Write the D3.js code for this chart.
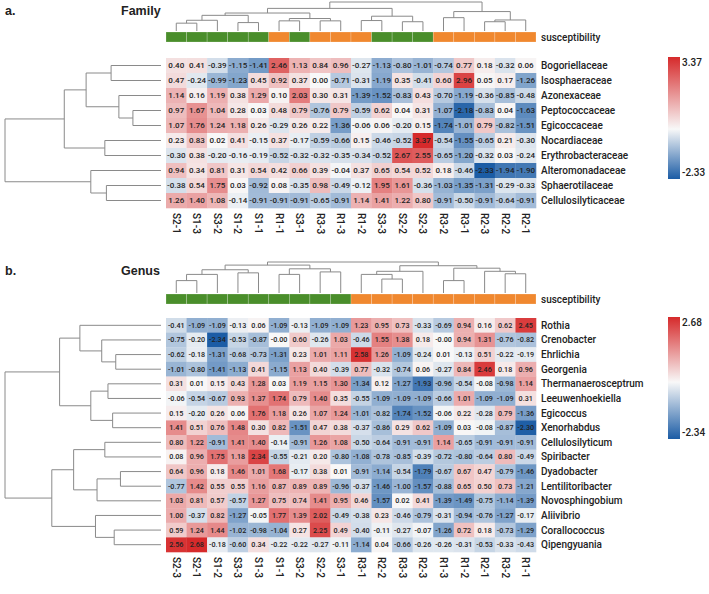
<!DOCTYPE html>
<html>
<head>
<meta charset="utf-8">
<script src="https://cdn.jsdelivr.net/npm/d3@7"></script>
<style>
  body { margin: 0; background: #fff; }
  svg { font-family: Roboto, "Open Sans", sans-serif; display: block; }
  .dendro { fill: none; stroke: #8a8a8a; stroke-width: 1; }
  .cell-text { font-weight: 500; fill: #222; }
  .row-label, .col-label, .annot-label, .legend-label { font-size: 10px; fill: #222; font-weight: 500; }
  .panel-title { font-family: "Liberation Sans", Arial, sans-serif; font-weight: bold; font-size: 12.5px; fill: #222; }
</style>
</head>
<body>
<div id="chart"></div>
<script>
// ---- Family data ----
const familyCols = ["S2-1","S1-3","S3-2","S1-2","S1-1","R1-1","S3-1","R3-3","R1-3","R1-2","S3-3","S2-2","S2-3","R3-2","R3-1","R2-3","R2-2","R2-1"];
const familyRows = ["Bogoriellaceae","Isosphaeraceae","Azonexaceae","Peptococcaceae","Egicoccaceae","Nocardiaceae","Erythrobacteraceae","Alteromonadaceae","Sphaerotilaceae","Cellulosilyticaceae"];
const familyValues = [
  [0.40,0.41,-0.39,-1.15,-1.41,2.46,1.13,0.84,0.96,-0.27,-1.13,-0.80,-1.01,-0.74,0.77,0.18,-0.32,0.06],
  [0.47,-0.24,-0.99,-1.23,0.45,0.92,0.37,0.00,-0.71,-0.31,-1.19,0.35,-0.41,0.60,2.96,0.05,0.17,-1.26],
  [1.14,0.16,1.19,0.38,1.29,0.10,2.03,0.30,0.31,-1.39,-1.52,-0.83,0.43,-0.70,-1.19,-0.36,-0.85,-0.48],
  [0.97,1.67,1.04,0.28,0.03,0.48,0.79,-0.76,0.79,-0.59,0.62,0.04,0.31,-1.07,-2.18,-0.83,0.04,-1.63],
  [1.07,1.76,1.24,1.18,0.26,-0.29,0.26,0.22,-1.36,-0.06,0.06,-0.20,0.15,-1.74,-1.01,0.79,-0.82,-1.51],
  [0.23,0.83,0.02,0.41,-0.15,0.37,-0.17,-0.59,-0.66,0.15,-0.46,-0.52,3.37,-0.54,-1.55,-0.65,0.21,-0.30],
  [-0.30,0.38,-0.20,-0.16,-0.19,-0.52,-0.32,-0.32,-0.35,-0.34,-0.52,2.67,2.55,-0.65,-1.20,-0.32,0.03,-0.24],
  [0.94,0.34,0.81,0.31,0.54,0.42,0.66,0.39,-0.04,0.37,0.65,0.54,0.52,0.18,-0.46,-2.33,-1.94,-1.90],
  [-0.38,0.54,1.75,0.03,-0.92,0.08,-0.35,0.98,-0.49,-0.12,1.95,1.61,-0.36,-1.03,-1.35,-1.31,-0.29,-0.33],
  [1.26,1.40,1.08,-0.14,-0.91,-0.91,-0.91,-0.65,-0.91,1.14,1.41,1.22,0.80,-0.91,-0.50,-0.91,-0.64,-0.91]
];
// dendrograms as [height, left, right]; leaves are column / row indices
const familyColTree = [10, [7.8, [6.2, [5.4, [3.7, [2.7, 0, 1], 2], [2.9, 3, 4]], [4.3, [3.5, 5, 6], [3.5, 7, 8]]], [5.1, [3.6, 9, 10], [3.2, 11, 12]]],
                           [6.7, [4.6, 13, 14], [3.8, [3.2, 15, 16], 17]]];
const familyRowTree = [10, [6.2, [4.8, [3.2, 0, 1], [2.7, 2, [1.8, 3, 4]]], [3.6, 5, 6]], [4.5, 7, [3.5, 8, 9]]];

// ---- Genus data ----
const genusCols = ["S2-3","S2-1","S1-2","S3-3","S1-3","S1-1","S3-2","S2-2","S3-1","R3-1","R2-2","R3-3","R2-3","R1-3","R1-2","R2-1","R3-2","R1-1"];
const genusRows = ["Rothia","Crenobacter","Ehrlichia","Georgenia","Thermanaerosceptrum","Leeuwenhoekiella","Egicoccus","Xenorhabdus","Cellulosilyticum","Spiribacter","Dyadobacter","Lentilitoribacter","Novosphingobium","Aliivibrio","Corallococcus","Qipengyuania"];
const genusValues = [
  [-0.41,-1.09,-1.09,-0.13,0.06,-1.09,-0.13,-1.09,-1.09,1.23,0.95,0.73,-0.33,-0.69,0.94,0.16,0.62,2.45],
  [-0.75,-0.20,-2.34,-0.53,-0.87,-0.00,0.60,-0.26,1.03,-0.46,1.55,1.38,0.18,-0.00,0.94,1.31,-0.76,-0.82],
  [-0.62,-0.18,-1.31,-0.68,-0.73,-1.31,0.23,1.01,1.11,2.58,1.26,-1.09,-0.24,0.01,-0.13,0.51,-0.22,-0.19],
  [-1.01,-0.80,-1.41,-1.13,0.41,-1.15,1.13,0.40,-0.39,0.77,-0.32,-0.74,0.06,-0.27,0.84,2.46,0.18,0.96],
  [0.31,0.01,0.15,0.43,1.28,0.03,1.19,1.15,1.30,-1.34,0.12,-1.27,-1.93,-0.96,-0.54,-0.08,-0.98,1.14],
  [-0.06,-0.54,-0.67,0.93,1.37,1.74,0.79,1.40,0.35,-0.55,-1.09,-1.09,-1.09,-0.66,1.01,-1.09,-1.09,0.31],
  [0.15,-0.20,0.26,0.06,1.76,1.18,0.26,1.07,1.24,-1.01,-0.82,-1.74,-1.52,-0.06,0.22,-0.28,0.79,-1.36],
  [1.41,0.51,0.76,1.48,0.30,0.82,-1.51,0.47,0.38,-0.37,-0.86,0.29,0.62,-1.09,0.03,-0.08,-0.87,-2.30],
  [0.80,1.22,-0.91,1.41,1.40,-0.14,-0.91,1.26,1.08,-0.50,-0.64,-0.91,-0.91,1.14,-0.65,-0.91,-0.91,-0.91],
  [0.08,0.96,1.75,1.18,2.34,-0.55,-0.21,0.20,-0.80,-1.08,-0.78,-0.85,-0.39,-0.72,-0.80,-0.64,0.80,-0.49],
  [0.64,0.96,0.18,1.46,1.01,1.68,-0.17,0.38,0.01,-0.91,-1.14,-0.54,-1.79,-0.67,0.67,0.47,-0.79,-1.46],
  [-0.77,1.42,0.55,0.55,1.16,0.87,0.89,0.89,-0.96,-0.37,-1.46,-1.00,-1.57,-0.88,0.65,0.50,0.73,-1.21],
  [1.03,0.81,0.57,-0.57,1.27,0.75,0.74,1.41,0.95,0.46,-1.57,0.02,0.41,-1.39,-1.49,-0.75,-1.14,-1.39],
  [1.00,-0.37,0.82,-1.27,-0.05,1.77,1.39,2.02,-0.49,-0.38,0.23,-0.46,-0.79,-0.31,-0.94,-0.76,-1.27,-0.17],
  [0.59,1.24,1.44,-1.02,-0.98,-1.04,0.27,2.25,0.49,-0.40,-0.11,-0.27,-0.07,-1.26,0.72,0.18,-0.73,-1.29],
  [2.56,2.68,-0.18,-0.60,0.34,-0.22,-0.22,-0.27,-0.11,-1.14,0.04,-0.66,-0.26,-0.26,-0.31,-0.53,-0.33,-0.43]
];
const genusColTree = [10, [9, [7.5, [6, [4, 0, 1], 2], [6.5, 3, 4]], [7.8, [6, 5, 6], [6.8, 7, 8]]],
                          [8.8, [7, [6, 9, [4.5, 10, 11]], 12], [8, [4, 13, 14], [7, 15, [6.2, 16, 17]]]]];
const genusRowTree = [10, [6.5, [5.2, 0, [3.8, 1, [2.9, 2, 3]]], [4.5, [3.4, 4, 5], [3.1, 6, 7]]],
                          [7, [5.6, [3.6, 8, 9], [4.1, [2.6, 10, 11], 12]], [4.2, 13, [3.0, 14, 15]]]];

const annotColors = { S: "#4a8e2b", R: "#f0882f" };

const W = 709, H = 594;
const svg = d3.select("#chart").append("svg").attr("width", W).attr("height", H);

const fmt = v => (Object.is(v, -0) ? "-" : "") + v.toFixed(2);

function drawTree(g, tree, leafPos, hScale, vertical) {
  const paths = [];
  function rec(node) {
    if (typeof node === "number") return { p: leafPos(node), h: 0 };
    const [h, a, b] = node;
    const A = rec(a), B = rec(b);
    if (vertical) {
      paths.push(`M${A.p},${hScale(A.h)}V${hScale(h)}H${B.p}V${hScale(B.h)}`);
    } else {
      paths.push(`M${hScale(A.h)},${A.p}H${hScale(h)}V${B.p}H${hScale(B.h)}`);
    }
    return { p: (A.p + B.p) / 2, h };
  }
  rec(tree);
  g.selectAll("path").data(paths).enter().append("path").attr("class", "dendro").attr("d", d => d);
}

function drawPanel(cfg) {
  const g = svg.append("g");
  const x = d3.scaleBand().domain(cfg.cols).range([166, 536]);
  const y = d3.scaleBand().domain(cfg.rows).range([cfg.top, cfg.bottom]);
  const flat = cfg.values.flat();
  const vmin = d3.min(flat), vmax = d3.max(flat);
  const color = d3.scaleLinear().domain([vmin, 0, vmax]).range(["#1b5ca5", "#f8f8f8", "#d62a2b"]);

  // titles
  g.append("text").attr("class", "panel-title").attr("x", 5).attr("y", cfg.titleY).text(cfg.letter);
  g.append("text").attr("class", "panel-title").attr("x", 121).attr("y", cfg.titleY).text(cfg.title);

  // column dendrogram
  const hCol = d3.scaleLinear().domain([0, cfg.colTree[0]]).range([cfg.annotTop - 1, cfg.dendTop]);
  drawTree(g.append("g"), cfg.colTree, i => x(cfg.cols[i]) + x.bandwidth() / 2, hCol, true);

  // row dendrogram
  const hRow = d3.scaleLinear().domain([0, cfg.rowTree[0]]).range([161, 5]);
  drawTree(g.append("g"), cfg.rowTree, i => y(cfg.rows[i]) + y.bandwidth() / 2, hRow, false);

  // susceptibility annotation
  g.selectAll(".annot").data(cfg.cols).enter().append("rect")
    .attr("x", d => x(d)).attr("y", cfg.annotTop)
    .attr("width", x.bandwidth()).attr("height", 10)
    .attr("fill", d => annotColors[d[0]])
    .attr("stroke", "#ffffff").attr("stroke-opacity", 0.35).attr("stroke-width", 0.6);
  g.append("text").attr("class", "annot-label").attr("x", 541).attr("y", cfg.annotTop + 5)
    .attr("dy", "0.35em").text("susceptibility");

  // heatmap cells
  const cells = [];
  cfg.values.forEach((row, ri) => row.forEach((v, ci) => cells.push({ r: cfg.rows[ri], c: cfg.cols[ci], v })));
  g.selectAll(".cell").data(cells).enter().append("rect")
    .attr("x", d => x(d.c)).attr("y", d => y(d.r))
    .attr("width", x.bandwidth() + 0.3).attr("height", y.bandwidth() + 0.3)
    .attr("fill", d => color(d.v));
  g.selectAll(".cell-text").data(cells).enter().append("text")
    .attr("class", "cell-text")
    .attr("x", d => x(d.c) + x.bandwidth() / 2).attr("y", d => y(d.r) + y.bandwidth() / 2)
    .attr("dy", "0.35em").attr("text-anchor", "middle")
    .style("font-size", cfg.numSize + "px")
    .text(d => fmt(d.v));

  // row labels
  g.selectAll(".row-label").data(cfg.rows).enter().append("text")
    .attr("class", "row-label").attr("x", 541)
    .attr("y", d => y(d) + y.bandwidth() / 2).attr("dy", "0.35em").text(d => d);

  // column labels (rotated, reading downward)
  g.selectAll(".col-label").data(cfg.cols).enter().append("text")
    .attr("class", "col-label")
    .attr("transform", d => `translate(${x(d) + x.bandwidth() / 2},${cfg.bottom + 5}) rotate(90)`)
    .attr("dy", "0.35em").text(d => d);

  // legend
  const legTop = cfg.top - 1, legBottom = cfg.top + 121;
  const ly = d3.scaleLinear().domain([vmin, vmax]).range([legBottom, legTop]);
  const gradId = "grad-" + cfg.title;
  const grad = svg.append("defs").append("linearGradient").attr("id", gradId)
    .attr("x1", 0).attr("y1", 1).attr("x2", 0).attr("y2", 0);
  color.domain().forEach((v, i) => {
    grad.append("stop").attr("offset", (v - vmin) / (vmax - vmin)).attr("stop-color", color.range()[i]);
  });
  g.append("rect").attr("x", 668).attr("y", legTop).attr("width", 12).attr("height", legBottom - legTop)
    .attr("fill", `url(#${gradId})`);
  g.append("text").attr("class", "legend-label").attr("x", 682).attr("y", ly(vmax) + 5)
    .attr("dy", "0.35em").text(fmt(vmax));
  g.append("text").attr("class", "legend-label").attr("x", 682).attr("y", ly(vmin) - 7)
    .attr("dy", "0.35em").text(fmt(vmin));
}

drawPanel({
  letter: "a.", title: "Family", titleY: 15,
  cols: familyCols, rows: familyRows, values: familyValues,
  colTree: familyColTree, rowTree: familyRowTree,
  dendTop: 2, annotTop: 32, top: 58, bottom: 208, numSize: 8
});

drawPanel({
  letter: "b.", title: "Genus", titleY: 275,
  cols: genusCols, rows: genusRows, values: genusValues,
  colTree: genusColTree, rowTree: genusRowTree,
  dendTop: 262, annotTop: 294, top: 318, bottom: 552, numSize: 7.2
});
</script>
</body>
</html>
